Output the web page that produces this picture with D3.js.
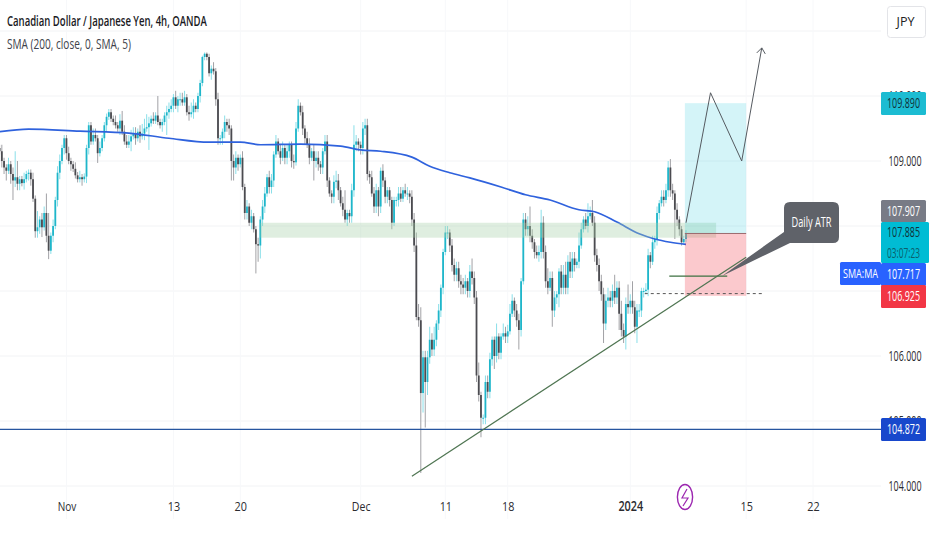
<!DOCTYPE html>
<html><head><meta charset="utf-8">
<script src="https://cdn.jsdelivr.net/npm/d3@7"></script>
<style>
html,body{margin:0;padding:0;background:#fff;overflow:hidden}
svg{display:block}
text{font-family:"Open Sans","Liberation Sans",sans-serif}
</style></head><body>
<svg id="c" width="932" height="550"></svg>
<script>
// ---- data ----
const title = "Canadian Dollar / Japanese Yen, 4h, OANDA";
const studyLabel = "SMA (200, close, 0, SMA, 5)";
const closes = [
109.15,109.0,108.9,108.85,108.95,108.8,108.7,108.75,108.65,
108.72,108.66,108.72,108.8,108.82,108.72,108.42,107.92,107.98,
108.1,107.98,108.2,107.85,107.62,107.85,108.0,108.4,108.82,
109.0,109.2,109.35,109.12,109.0,108.95,108.88,108.78,108.72,
108.75,108.72,108.76,109.2,109.55,109.3,109.4,109.35,109.12,
109.2,109.35,109.55,109.68,109.75,109.65,109.6,109.55,109.5,
109.62,109.45,109.3,109.25,109.3,109.38,109.42,109.35,109.45,
109.38,109.42,109.5,109.52,109.58,109.65,109.62,109.7,109.6,
109.55,109.6,109.7,109.75,109.8,109.85,109.98,109.85,109.95,
109.95,109.9,109.98,109.75,109.72,109.75,109.85,109.8,110.0,
110.2,110.6,110.65,110.6,110.35,110.42,110.38,109.95,109.35,
109.35,109.45,109.6,109.55,109.5,109.0,108.9,109.05,108.95,
109.05,108.6,108.2,108.3,108.05,108.15,107.95,107.72,107.7,
108.1,108.3,108.5,108.75,108.6,108.7,109.1,109.3,109.15,
109.05,109.2,109.05,109.15,109.25,109.0,108.98,109.5,109.85,
109.75,109.5,109.35,109.25,109.05,109.15,109.0,109.05,108.95,
108.9,109.15,109.3,108.7,108.5,108.45,108.68,108.7,108.55,
108.35,108.25,108.1,108.2,108.15,108.55,109.25,109.3,109.25,
109.2,109.5,109.55,108.8,108.75,108.5,108.3,108.55,108.3,
108.85,108.7,108.45,108.55,108.4,108.05,108.4,108.4,108.5,
108.42,108.55,108.5,108.5,108.45,108.1,107.7,106.6,106.55,
105.43,105.98,105.6,105.98,106.25,106.1,106.25,106.5,106.7,
107.05,107.6,107.9,107.9,107.7,107.4,107.25,107.35,107.15,
107.1,107.05,107.15,107.0,107.3,107.2,106.9,105.7,105.4,
105.05,105.05,105.6,105.45,105.95,106.25,106.0,106.3,106.05,
106.3,106.35,106.3,106.38,106.65,106.85,106.7,106.55,106.4,
107.15,108.1,107.95,108.0,107.85,107.75,107.6,107.55,107.6,
108.05,107.6,107.15,107.05,107.2,106.7,106.9,106.95,107.3,
107.05,107.25,107.05,107.45,107.3,107.5,107.4,107.45,107.7,
107.95,108.1,108.0,108.15,108.2,108.05,107.55,107.4,107.15,
106.95,106.5,106.85,106.9,106.85,107.0,106.9,107.05,106.65,
106.4,106.3,106.8,106.75,106.85,106.75,106.45,106.7,106.7,
107.0,107.0,107.02,107.55,107.45,107.75,107.8,108.2,108.35,
108.45,108.4,108.55,108.9,108.55,108.5,108.25,108.1,107.95,
107.75,107.8,107.885];
const wickUp = [
.05,.1,.05,.05,.1,.05,.1,.4,.25, .05,.05,.1,.05,.05,.05,.1,.05,.25,
.05,.1,.1,.3,.35,.05,.1,.05,.1, .1,.05,.05,.05,.1,.05,.05,.1,.05,
.1,.05,.05,.05,.05,.05,.1,.1,.05, .1,.05,.05,.05,.05,.05,.05,.1,.05,
.1,.15,.1,.1,.1,.1,.1,.1,.05, .1,.15,.15,.2,.1,.05,.1,.05,.3,
.05,.05,.05,.1,.1,.1,.05,.1,.05, .1,.1,.1,.05,.1,.15,.1,.05,.05,
.05,.02,.02,.02,.05,.05,.1,.05,.1, .05,.05,.1,.05,.1,.05,.1,.1,.05,
.05,.1,.05,.1,.05,.1,.05,.05,.1, .05,.1,.1,.05,.1,.1,.05,.1,.05,
.1,.1,.05,.1,.05,.05,.1,.1,.1, .05,.1,.05,.1,.1,.05,.1,.1,.1,
.05,.05,.1,.1,.05,.05,.1,.15,.1, .05,.1,.3,.05,.05,.1,.3,.1,.05,
.05,.1,.1,.1,.05,.1,.1,.1,.05, .05,.1,.05,.05,.05,.05,.05,.05,.1,
.1,.05,.1,.1,.05,.1,.1,.2,.2, .2,.1,.1,.1,.2,.1,.2,.05,.1,
.05,.05,.1,.1,.05,.1,.1,.1,.1, .1,.1,.1,.05,.1,.2,.1,.1,.2,
.05,.05,.1,.1,.1,.05,.05,.2,.05, .05,.15,.1,.1,.15,.1,.05,.1,.1,
.05,.1,.1,.15,.3,.1,.05,.1,.1, .2,.1,.1,.2,.1,.1,.1,.05,.05,
.1,.15,.2,.1,.15,.1,.1,.05,.2, .1,.05,.1,.2,.1,.2,.1,.1,.1,
.1,.1,.1,.15,.1,.1,.25,.1,.1, .2,.1,.1,.3,.1,.3,.1,.1,.1,
.05,.05,.1,.1,.05,.1,.05,.1,.05, .1,.1,.1,.1,.13,.1,.05,.1,.05,
.05,.05,.05];
const wickDown = [
.05,.1,.1,.15,.05,.15,.3,.1,.1, .1,.05,.1,.05,.1,.1,.05,.1,.1,
.1,.15,.05,.1,.13,.05,.1,.05,.1, .1,.05,.1,.1,.05,.1,.05,.05,.05,
.05,.1,.05,.1,.1,.05,.05,.05,.15, .05,.05,.05,.1,.05,.05,.05,.05,.05,
.1,.05,.05,.05,.05,.15,.05,.1,.05, .1,.05,.1,.05,.35,.05,.05,.05,.05,
.05,.1,.05,.3,.1,.05,.1,.05,.1, .1,.05,.05,.05,.1,.05,.1,.05,.05,
.1,.05,.05,.05,.05,.1,.05,.1,.1, .1,.1,.1,.1,.1,.3,.2,.1,.1,
.05,.05,.1,.1,.05,.1,.05,.45,.25, .2,.1,.1,.05,.1,.1,.1,.05,.05,
.1,.05,.1,.1,.1,.1,.1,.05,.05, .05,.1,.1,.05,.1,.05,.3,.1,.1,
.1,.1,.05,.1,.05,.1,.1,.1,.15, .05,.1,.05,.1,.1,.1,.1,.1,.1,
.1,.1,.1,.1,.1,.05,.1,.1,.15, .1,.1,.1,.1,.1,.1,.05,.1,.1,
.05,.05,.05,.1,.1,.1,.1,.05,.1, 1.23,.3,.7,.2,.1,.1,.1,.1,.1,
.1,.1,.05,.1,.1,.1,.1,.1,.1, .15,.1,.1,.1,.1,.1,.1,.1,.1,
.3,.1,.1,.1,.1,.1,.2,.1,.1, .1,.05,.1,.1,.05,.05,.1,.1,.3,
.1,.05,.1,.1,.1,.1,.1,.05,.1, .1,.1,.1,.1,.05,.25,.1,.1,.2,
.1,.1,.1,.1,.1,.1,.1,.05,.1, .05,.05,.05,.1,.05,.05,.1,.1,.15,
.1,.3,.1,.1,.1,.1,.1,.1,.25, .1,.1,.2,.1,.1,.1,.1,.25,.1,
.1,.1,.05,.1,.1,.05,.1,.1,.1, .05,.1,.05,.1,.1,.1,.45,.1,.1,
.05,.02,.05];
const smaBars   = [0,13,36,58,76,94,108,117,135,153,162,171,185,193,202,211,225,236,247,260,267,277,287,294,301,308];
const smaValues = [109.45,109.49,109.46,109.43,109.35,109.29,109.29,109.25,109.26,109.23,109.17,109.15,109.06,108.92,108.82,108.74,108.6,108.48,108.4,108.25,108.22,108.06,107.88,107.8,107.75,107.717];
const priceTicks = [104,105,106,109,110];
const gridPrices = [104,105,106,107,108,109,110,111];
const timeLabels = ["Nov","13","20","Dec","11","18","2024","15","22"];
const timeBars   = [30,78,108,162,200,228,283,335,365];
const zonePrices = [108.05,107.82];
const targetPrice = 109.89, entryPrice = 107.885, stopPrice = 106.925;
const slPrice = 106.96, atrPrice = 107.23;
const hlinePrice = 104.872;
const trendBars = [185,335], trendPrices = [104.15,107.52];
const pathBars = [308,319,333,342], pathPrices = [108.05,110.05,109.0,110.74];

// ---- scales ----
const svg = d3.select("#c");
const x = d3.scaleLinear().domain([0,closes.length-1]).range([-0.4,686]);
const y = d3.scaleLinear().domain([104,109]).range([486,161]);
const axisX = 881;

// condense a text to a given width by scaling, so its box matches what is drawn
function fit(sel,px,py,len){
  const n = sel.node().getComputedTextLength();
  sel.attr("x",0).attr("y",0).attr("transform",`translate(${px},${py}) scale(${len/n},1)`);
}
function txt(g,s,px,py,len,size,col,anchor,weight){
  const t = g.append("text").text(s).attr("dy",".35em")
    .attr("font-size",size).attr("fill",col).attr("text-anchor",anchor||"start")
    .attr("font-weight",weight||400);
  fit(t,px,py,len);
  return t;
}

const plot = svg.append("g");
// grid
plot.append("g").selectAll("line").data(gridPrices).join("line")
  .attr("x1",0).attr("x2",axisX).attr("y1",d=>y(d)).attr("y2",d=>y(d)).attr("stroke","#f2f3f5");
plot.append("g").selectAll("line").data(timeBars).join("line")
  .attr("x1",d=>x(d)).attr("x2",d=>x(d)).attr("y1",0).attr("y2",519).attr("stroke","#f7f8fa");

// candles
const bars = closes.map((c,i)=>{
  const o = i? closes[i-1] : c+0.05;
  return {i,o,c,h:Math.max(o,c)+wickUp[i],l:Math.min(o,c)-wickDown[i]};
});
const cg = plot.append("g");
cg.selectAll("line").data(bars).join("line")
  .attr("x1",d=>x(d.i)).attr("x2",d=>x(d.i)).attr("y1",d=>y(d.h)).attr("y2",d=>y(d.l))
  .attr("stroke",d=>d.c>=d.o?"#8adfe9":"#a2a2a6").attr("stroke-width",1);
cg.selectAll("rect").data(bars).join("rect")
  .attr("x",d=>x(d.i)-0.9).attr("width",1.8)
  .attr("y",d=>y(Math.max(d.o,d.c))).attr("height",d=>Math.max(1,Math.abs(y(d.o)-y(d.c))))
  .attr("fill",d=>d.c>=d.o?"#1fb6ca":"#4b4b50");

// SMA
plot.append("path").attr("fill","none").attr("stroke","#2f62dd").attr("stroke-width",1.7)
  .attr("d",d3.line().x((d,i)=>x(smaBars[i])).y(d=>y(d)).curve(d3.curveMonotoneX)(smaValues));

// zone + position tool
plot.append("rect").attr("x",x(117)).attr("width",x(321.5)-x(117))
  .attr("y",y(zonePrices[0])).attr("height",y(zonePrices[1])-y(zonePrices[0])).attr("fill","#a5d0a8").attr("opacity",.36);
plot.append("rect").attr("x",x(307.5)).attr("width",x(335)-x(307.5))
  .attr("y",y(targetPrice)).attr("height",y(entryPrice)-y(targetPrice)).attr("fill","#00bcd4").attr("opacity",.17);
plot.append("rect").attr("x",x(307.5)).attr("width",x(335)-x(307.5))
  .attr("y",y(entryPrice)).attr("height",y(stopPrice)-y(entryPrice)).attr("fill","#f23645").attr("opacity",.27);
plot.append("line").attr("x1",x(307.5)).attr("x2",x(335)).attr("y1",y(entryPrice)).attr("y2",y(entryPrice)).attr("stroke","#9b6a6e");

// horizontal blue line
plot.append("line").attr("x1",0).attr("x2",axisX).attr("y1",y(hlinePrice)).attr("y2",y(hlinePrice))
  .attr("stroke","#26559f").attr("stroke-width",1.2);
// dashed stop line
plot.append("line").attr("x1",x(289.5)).attr("x2",x(343)).attr("y1",y(slPrice)).attr("y2",y(slPrice))
  .attr("stroke","#555").attr("stroke-dasharray","3 3");
// ATR green line
plot.append("line").attr("x1",x(300.5)).attr("x2",x(326.5)).attr("y1",y(atrPrice)).attr("y2",y(atrPrice))
  .attr("stroke","#3d7040").attr("stroke-width",1.2);
// trend line
plot.append("line").attr("x1",x(trendBars[0])).attr("x2",x(trendBars[1])).attr("y1",y(trendPrices[0])).attr("y2",y(trendPrices[1]))
  .attr("stroke","#4f7552").attr("stroke-width",1.2);
// projected path
const pg = plot.append("g").attr("fill","none").attr("stroke","#555a60").attr("stroke-width",1);
pg.append("path").attr("d",d3.line().x((d,i)=>x(pathBars[i])).y(d=>y(d))(pathPrices));
const tip=[x(pathBars[3]),y(pathPrices[3])];
pg.append("path").attr("d",`M${tip[0]-5},${tip[1]+5}L${tip[0]},${tip[1]}L${tip[0]+3.5},${tip[1]+6}`);

// callout
plot.append("path").attr("fill","#5f6269")
  .attr("d","M790,202H833Q839,202 839,208V237Q839,243 833,243H790L722,276L784,232V208Q784,202 790,202Z");
txt(plot,"Daily ATR",811.5,222.5,40,14,"#fff","middle");

// lightning icon
const ic = plot.append("g").attr("fill","none").attr("stroke","#9c27b0").attr("stroke-width",1.4);
ic.append("ellipse").attr("cx",685).attr("cy",497).attr("rx",7.6).attr("ry",12.5);
ic.append("path").attr("stroke-width",1.2).attr("d","M687,489L682,498H688L683,506");

// axes
const yAxis = d3.axisRight(y).tickValues(priceTicks).tickSize(0).tickFormat(d3.format(".3f"));
const ya = svg.append("g").attr("transform",`translate(${axisX},0)`).call(yAxis);
ya.select(".domain").remove();
ya.selectAll("text").attr("text-anchor","middle").attr("font-size",14).attr("fill","#2b2b2f")
  .style("font-family",'"Open Sans",sans-serif')
  .each(function(){ fit(d3.select(this),24,0,33); });

const xAxis = d3.axisBottom(x).tickValues(timeBars).tickSize(0).tickFormat((d,i)=>timeLabels[i]);
const xa = svg.append("g").attr("transform","translate(0,498)").call(xAxis);
xa.select(".domain").remove();
xa.selectAll("text").attr("font-size",13.5).attr("fill","#2b2b2f")
  .attr("font-weight",d=>d===283?600:400)
  .style("font-family",'"Open Sans",sans-serif')
  .each(function(d,i){ fit(d3.select(this),0,3,timeLabels[i].length*6.2); });

// price tags
function tag(px,py,w,h,fill,lines,col){
  svg.append("rect").attr("x",px).attr("y",py).attr("width",w).attr("height",h).attr("rx",1.5).attr("fill",fill);
  lines.forEach((s,k)=>txt(svg,s,px+22.5,py+h*(k+.5)/lines.length,33,14,k?"#0b5f6c":col,"middle"));
}
tag(881,92,45,23,"#1cbcd2",[d3.format(".3f")(targetPrice)],"#12323a");
tag(881,200,45,22,"#787b86",["107.907"],"#fff");
tag(881,222,48,41,"#00bcd4",[d3.format(".3f")(entryPrice),"03:07:23"],"#12323a");
tag(881,263,45,23,"#2962ff",["107.717"],"#fff");
svg.append("rect").attr("x",840).attr("y",262).attr("width",41).attr("height",23).attr("rx",1.5).attr("fill","#2962ff");
txt(svg,"SMA:MA",860.5,273.5,35,13.5,"#fff","middle");
tag(881,285,45,23,"#f23645",[d3.format(".3f")(stopPrice)],"#fff");
tag(881,418,45,23,"#1848cc",[d3.format(".3f")(hlinePrice)],"#fff");

// currency box
svg.append("rect").attr("x",887.5).attr("y",6.5).attr("width",38).attr("height",31).attr("rx",3)
  .attr("fill","#fff").attr("stroke","#e3e4e8");
txt(svg,"JPY",905.5,21.5,18,12,"#222","middle");

// titles
txt(svg,title,7,21,200,15,"#1a1a1e","start",600);
txt(svg,studyLabel,7,44,124,15,"#40424a","start",400);
</script>
</body></html>
